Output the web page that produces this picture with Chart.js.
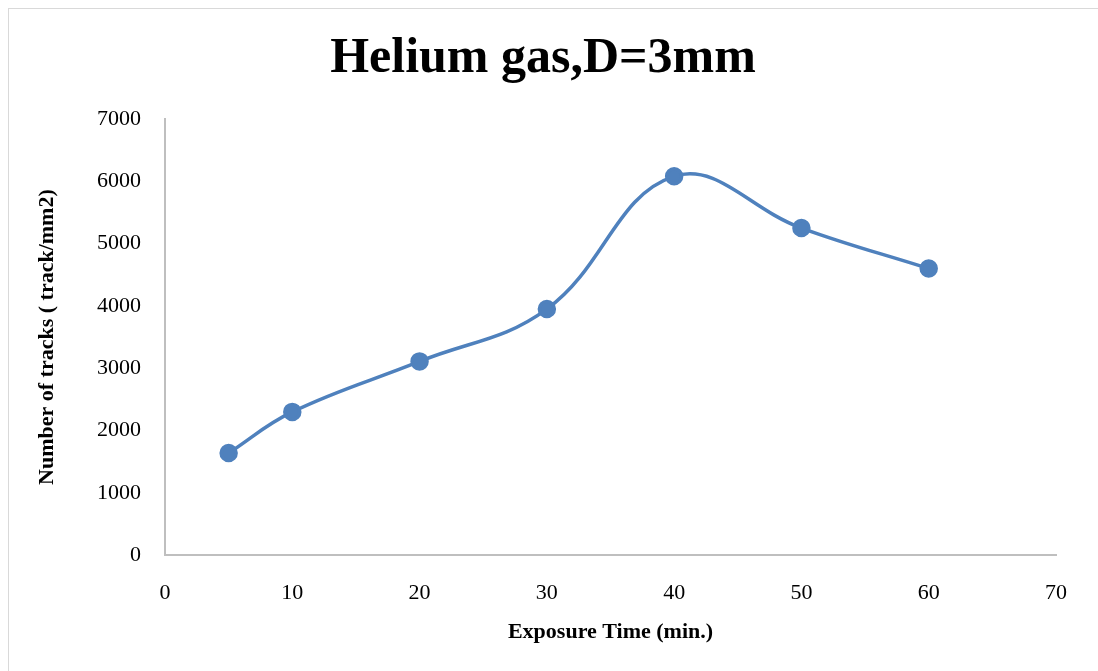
<!DOCTYPE html>
<html>
<head>
<meta charset="utf-8">
<script src="https://cdn.jsdelivr.net/npm/chart.js@4"></script>
<style>
  html, body { margin:0; padding:0; background:#fff; }
  #wrap { position:relative; width:1098px; height:671px; overflow:hidden; }
  #frame { position:absolute; left:8px; top:8px; width:1200px; height:800px; border:1.5px solid #d9d9d9; box-sizing:border-box; }
  #c { position:absolute; left:0; top:0; }
</style>
</head>
<body>
<div id="wrap"><div id="frame"></div><canvas id="c" width="1098" height="671"></canvas></div>
<script>
const exposure = [5, 10, 20, 30, 40, 50, 60];
const tracks = [1640, 2300, 3110, 3950, 6080, 5250, 4600];
const xTicks = [0, 10, 20, 30, 40, 50, 60, 70];
const yTicks = [0, 1000, 2000, 3000, 4000, 5000, 6000, 7000];

const blue = "#4f81bd";
const serif = "'Liberation Serif', 'DejaVu Serif', serif";

new Chart(document.getElementById("c"), {
  type: "line",
  data: { datasets: [{
    data: exposure.map((x, i) => ({x, y: tracks[i]})),
    borderColor: blue, backgroundColor: blue, borderWidth: 3.5,
    tension: 0.4, pointRadius: 7.5, pointHoverRadius: 7.5, fill: false
  }]},
  options: {
    responsive: false, animation: false,
    layout: { padding: { left: 30, right: 42, top: 0, bottom: 25 } },
    plugins: {
      legend: { display: false }, tooltip: { enabled: false },
      title: { display: true, text: "Helium gas,D=3mm", color: "#000",
        font: { family: serif, size: 50, weight: "bold" }, padding: { top: 29, bottom: 30 } }
    },
    scales: {
      x: { type: "linear", min: 0, max: 70,
        afterBuildTicks: s => { s.ticks = xTicks.map(v => ({value: v})); },
        grid: { display: false, drawTicks: false },
        border: { color: "#bfbfbf", width: 2 },
        ticks: { color: "#000", padding: 25, font: { family: serif, size: 22 }, callback: v => String(v) },
        title: { display: true, text: "Exposure Time (min.)", color: "#000", padding: { top: -12, bottom: 0 },
          font: { family: serif, size: 22, weight: "bold" } } },
      y: { min: 0, max: 7000,
        afterBuildTicks: s => { s.ticks = yTicks.map(v => ({value: v})); },
        afterFit: s => { s.width = 135; },
        grid: { display: false, drawTicks: false },
        border: { color: "#bfbfbf", width: 2 },
        ticks: { color: "#000", padding: 24, font: { family: serif, size: 22 }, callback: v => String(v) },
        title: { display: true, text: "Number of tracks ( track/mm2)", color: "#000",
          font: { family: serif, size: 22, weight: "bold" } } }
    }
  }
});
</script>
</body>
</html>
